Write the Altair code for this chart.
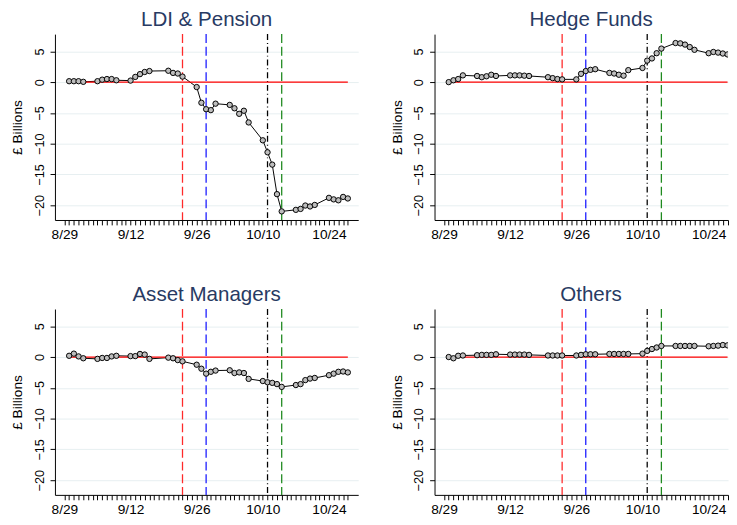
import altair as alt
import pandas as pd

# ---- data -----------------------------------------------------------------
dates = [
    "2022-08-30", "2022-08-31", "2022-09-01", "2022-09-02",
    "2022-09-05", "2022-09-06", "2022-09-07", "2022-09-08", "2022-09-09",
    "2022-09-12", "2022-09-13", "2022-09-14", "2022-09-15", "2022-09-16",
    "2022-09-20", "2022-09-21", "2022-09-22", "2022-09-23",
    "2022-09-26", "2022-09-27", "2022-09-28", "2022-09-29", "2022-09-30",
    "2022-10-03", "2022-10-04", "2022-10-05", "2022-10-06", "2022-10-07",
    "2022-10-10", "2022-10-11", "2022-10-12", "2022-10-13", "2022-10-14",
    "2022-10-17", "2022-10-18", "2022-10-19", "2022-10-20", "2022-10-21",
    "2022-10-24", "2022-10-25", "2022-10-26", "2022-10-27", "2022-10-28",
]

ldi_pension = [
    0.15, 0.15, 0.15, 0.05,
    0.15, 0.4, 0.5, 0.5, 0.3,
    0.25, 0.85, 1.3, 1.65, 1.8,
    1.85, 1.5, 1.4, 0.9,
    -0.8, -3.35, -4.4, -4.55, -3.5,
    -3.7, -4.25, -5.15, -4.65, -6.55,
    -9.45, -11.4, -13.4, -18.2, -21.0,
    -20.75, -20.6, -20.05, -20.2, -19.95,
    -18.8, -19.05, -19.2, -18.65, -18.9,
]

hedge_funds = [
    0.0, 0.3, 0.5, 1.1,
    1.0, 0.8, 0.95, 1.2, 1.0,
    1.1, 1.1, 1.1, 1.05, 1.0,
    0.8, 0.65, 0.5, 0.45,
    0.45, 1.35, 1.8, 2.0, 2.1,
    1.5, 1.4, 1.2, 1.05, 1.95,
    2.3, 3.5, 3.85, 4.7, 5.45,
    6.35, 6.3, 6.1, 5.7, 5.25,
    4.7, 4.9, 4.8, 4.65, 4.5,
]

asset_managers = [
    0.2, 0.55, 0.1, -0.2,
    -0.3, -0.15, -0.15, 0.1, 0.2,
    0.15, 0.15, 0.5, 0.4, -0.3,
    -0.1, -0.2, -0.5, -0.7,
    -1.25, -1.9, -2.7, -2.4, -2.2,
    -2.15, -2.6, -2.5, -2.6, -3.55,
    -3.9, -4.1, -4.2, -4.4, -4.85,
    -4.55, -4.4, -3.75, -3.5, -3.4,
    -2.95, -2.7, -2.4, -2.35, -2.5,
]

others = [
    0.0, -0.2, 0.2, 0.25,
    0.3, 0.35, 0.35, 0.35, 0.45,
    0.4, 0.4, 0.4, 0.4, 0.35,
    0.25, 0.25, 0.25, 0.25,
    0.25, 0.35, 0.45, 0.45, 0.45,
    0.5, 0.5, 0.5, 0.5, 0.5,
    0.55, 1.0, 1.3, 1.55, 1.8,
    1.8, 1.8, 1.8, 1.8, 1.8,
    1.75, 1.8, 1.85, 1.95, 1.9,
]

panel_titles = ["LDI & Pension", "Hedge Funds", "Asset Managers", "Others"]

start_date = "2022-08-29"
end_date = "2022-10-28"
tick_dates = ["2022-08-29", "2022-09-12", "2022-09-26", "2022-10-10", "2022-10-24"]
tick_labels = ["8/29", "9/12", "9/26", "10/10", "10/24"]
y_ticks = [5, 0, -5, -10, -15, -20]

event_dates = ["2022-09-23", "2022-09-28", "2022-10-11", "2022-10-14"]
event_colors = ["#ff2a2a", "#1a1aff", "#000000", "#1f8a1f"]
event_dashes = [[9, 4], [9, 4], [6, 3, 1, 3], [9, 4]]

# ---- helpers --------------------------------------------------------------
t0 = pd.Timestamp(start_date)
days = [(pd.Timestamp(d) - t0).days for d in dates]
n_days = (pd.Timestamp(end_date) - t0).days
tick_days = [(pd.Timestamp(d) - t0).days for d in tick_dates]
event_days = [(pd.Timestamp(d) - t0).days for d in event_dates]

label_expr = "''"
for d, lab in zip(reversed(tick_days), reversed(tick_labels)):
    label_expr = f"datum.value == {d} ? '{lab}' : ({label_expr})"

FONT = "Liberation Sans"
PX_PER_DAY = 4.83


def panel(values, title, x_max, title_center):
    x_domain = [-2, x_max]
    width = round((x_domain[1] - x_domain[0]) * PX_PER_DAY)
    df = pd.DataFrame({"day": days, "value": values})
    x_scale = alt.Scale(domain=x_domain, nice=False, zero=False)
    x_axis = alt.Axis(
        values=list(range(0, n_days + 1)),
        labelExpr=label_expr,
        title=None,
        grid=False,
        ticks=True,
        tickSize=5,
        tickWidth=1,
        tickColor="black",
        tickOpacity=1,
        labelPadding=3,
        labelFontSize=14,
        labelFlush=False,
        labelOverlap=False,
        labelBound=False,
    )
    x_enc = alt.X("day:Q", scale=x_scale, axis=x_axis)
    y_scale = alt.Scale(domain=[-22.4, 7.8], nice=False, zero=False)
    y_axis = alt.Axis(
        values=y_ticks,
        title="£ Billions",
        titleFontSize=14,
        titleFontWeight="normal",
        titlePadding=9,
        grid=True,
        gridColor="#e6eff1",
        gridWidth=1,
        ticks=True,
        tickSize=5,
        tickColor="black",
        labelPadding=4,
        labelFontSize=13,
        labelAngle=270,
        labelAlign="center",
        labelBaseline="bottom",
        labelOverlap=False,
        labelFlush=False,
        labelBound=False,
    )
    y_enc = alt.Y("value:Q", scale=y_scale, axis=y_axis)
    y_zero = alt.YDatum(0, type="quantitative", scale=y_scale, axis=y_axis)
    base = alt.Chart(df)
    line = base.mark_line(color="black", strokeWidth=1, clip=True).encode(x=x_enc, y=y_enc)
    zero_line = base.mark_line(color="#ff0000", strokeWidth=1.3, clip=True).encode(
        x=x_enc, y=y_zero
    )
    pts = base.mark_point(
        shape="circle", filled=True, fill="#bdbdbd", stroke="black",
        strokeWidth=1, size=30, opacity=1, clip=True,
    ).encode(x=x_enc, y=y_enc)

    layers = [line]
    for d, c, dash in zip(event_days, event_colors, event_dashes):
        ev = pd.DataFrame({"day": [d]})
        layers.append(
            alt.Chart(ev).mark_rule(color=c, strokeWidth=1.3, strokeDash=dash).encode(
                x=x_enc
            )
        )
    layers += [zero_line, pts]
    return alt.layer(*layers).properties(
        width=width,
        height=190,
        title=alt.TitleParams(
            text=title, fontSize=21, font=FONT, fontWeight="normal",
            color="#283a63", anchor="middle", frame="group", offset=4,
            dx=title_center - width / 2,
        ),
    )


p1 = panel(ldi_pension, panel_titles[0], 62.2, 155)
p2 = panel(hedge_funds, panel_titles[1], 60.1, 160)
p3 = panel(asset_managers, panel_titles[2], 62.2, 155)
p4 = panel(others, panel_titles[3], 60.1, 160)

chart = (
    alt.vconcat(
        alt.hconcat(p1, p2, spacing=33),
        alt.hconcat(p3, p4, spacing=33),
        spacing=43,
    )
    .properties(padding={"left": 3, "top": -5, "right": 0, "bottom": 0})
    .configure_view(stroke=None)
    .configure_axis(
        domainColor="black", tickColor="black", labelColor="black",
        titleColor="black", labelFont=FONT, titleFont=FONT, domainWidth=1,
    )
)

chart.save("out.html", embed_options={"renderer": "svg", "actions": False})
